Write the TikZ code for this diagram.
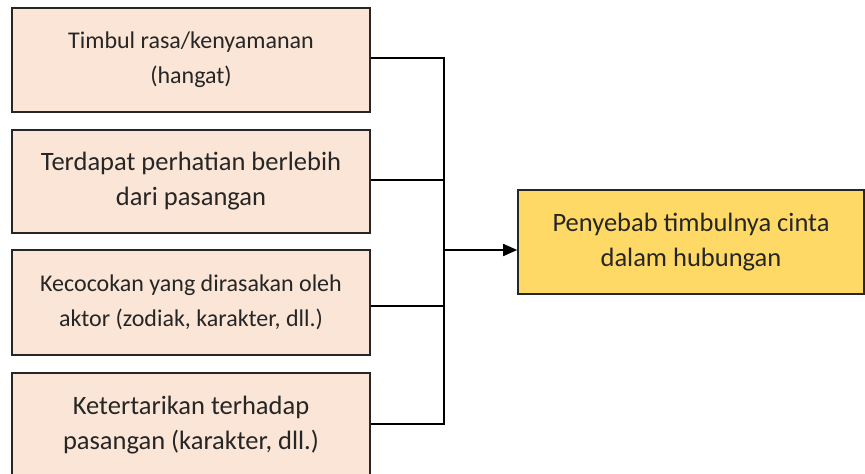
\documentclass[tikz,border=0pt]{standalone}
\usepackage{fontspec}
\setmainfont{Carlito}
\usetikzlibrary{arrows.meta}
\definecolor{peach}{HTML}{FBE5D6}
\definecolor{gold}{HTML}{FFD966}
\definecolor{edge}{HTML}{262626}
\newcommand{\txtsize}[1]{\fontsize{#1}{35}\selectfont}
\begin{document}
\begin{tikzpicture}[x=1pt,y=-1pt,
  cause/.style={draw=edge,line width=1.6pt,fill=peach,inner sep=0pt,
    align=center,text=black!85,minimum width=358pt},
  effect/.style={draw=edge,line width=1.6pt,fill=gold,inner sep=0pt,
    align=center,text=black!85,font=\txtsize{26.5}},
  link/.style={draw=black,line width=1.6pt}]
\useasboundingbox (0,0) rectangle (865,474);
\clip (0,0) rectangle (865,474);
\node[cause,minimum height=104pt,font=\txtsize{24}] (b1) at (191,60)
  {Timbul rasa/kenyamanan\\(hangat)};
\node[cause,minimum height=103pt,font=\txtsize{26.5}] (b2) at (191,181.5)
  {Terdapat perhatian berlebih\\dari pasangan};
\node[cause,minimum height=105pt,font=\txtsize{24}] (b3) at (191,302.5)
  {Kecocokan yang dirasakan oleh\\aktor (zodiak, karakter, dll.)};
\node[cause,minimum height=104pt,font=\txtsize{26.5}] (b4) at (191,425)
  {Ketertarikan terhadap\\pasangan (karakter, dll.)};
\node[effect,minimum width=346pt,minimum height=104pt] (r) at (691,242)
  {Penyebab timbulnya cinta\\dalam hubungan};
\coordinate (j) at (444,250);
\draw[link] (b1.east |- 0,58) -| (j);
\draw[link] (b2.east |- 0,180) -| (j);
\draw[link] (b3.east |- 0,306) -| (j);
\draw[link] (b4.east |- 0,424) -| (j);
\draw[link,-{Triangle[length=14pt,width=12pt]}] (j) -- (r.west |- j);
\end{tikzpicture}
\end{document}
